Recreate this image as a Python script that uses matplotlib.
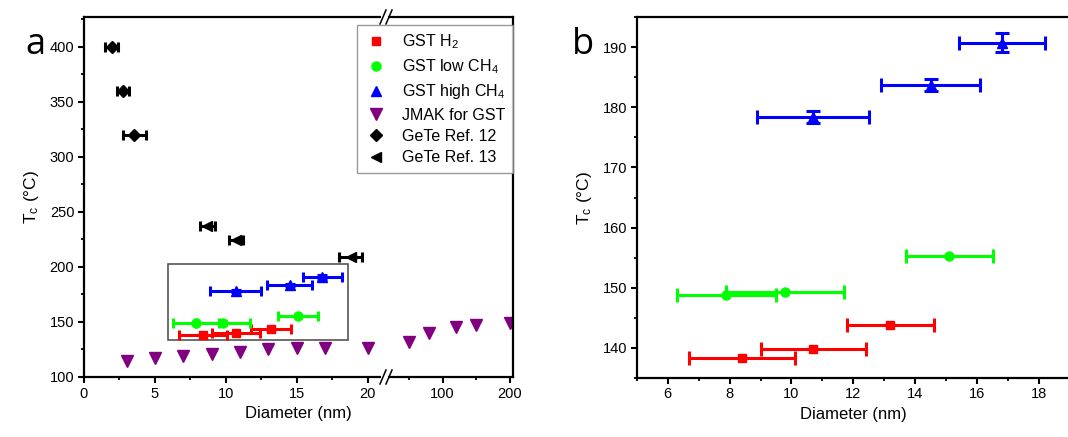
import numpy as np
import matplotlib
matplotlib.use("Agg")
import matplotlib.pyplot as plt
from matplotlib.lines import Line2D
from matplotlib.patches import Rectangle
from matplotlib.ticker import FixedLocator, MultipleLocator

plt.rcParams['font.family'] = ['Liberation Sans', 'DejaVu Sans']
plt.rcParams['mathtext.fontset'] = 'custom'
plt.rcParams['mathtext.rm'] = 'Liberation Sans'
plt.rcParams['mathtext.it'] = 'Liberation Sans'

# ── данные ────────────────────────────────────────────────────────────────
h2_d = [8.4, 10.7, 13.2]
h2_t = [138.3, 139.8, 143.8]
h2_dx = [1.7, 1.7, 1.4]

low_d = [7.9, 9.8, 15.1]
low_t = [148.8, 149.2, 155.2]
low_dx = [1.6, 1.9, 1.4]

high_d = [10.7, 14.5, 16.8]
high_t = [178.4, 183.7, 190.8]
high_dx = [1.8, 1.6, 1.4]
high_dt = [1.05, 1.05, 1.65]

jmak_d = [3, 5, 7, 9, 11, 13, 15, 17, 20, 50, 80, 120, 150, 200]
jmak_t = [114.5, 117, 119, 121, 123, 125, 126, 126, 126, 132, 140, 145, 147, 149]

ref12_d = [1.95, 2.75, 3.55]
ref12_t = [400, 360, 320]
ref12_dx = [0.45, 0.45, 0.8]

ref13_d = [8.7, 10.7, 18.8]
ref13_t = [237, 224, 209]
ref13_dx = [0.5, 0.5, 0.8]

labels = ["GST H$_2$", "GST low CH$_4$", "GST high CH$_4$",
          "JMAK for GST", "GeTe Ref. 12", "GeTe Ref. 13"]

# ── ось с разрывом (0–21 линейно, потом 100/200 сжато) ─────────────────────
SEG_END = 21.0
U100 = 25.28
K = 0.0472


def fwd(x):
    x = np.asarray(x, float)
    return np.where(x <= SEG_END, x, U100 + (x - 100.0) * K)


def inv(u):
    u = np.asarray(u, float)
    return np.where(u <= SEG_END, u, np.maximum(100.0 + (u - U100) / K, SEG_END))


W, H = 1068, 437
fig = plt.figure(figsize=(W / 100, H / 100), dpi=100)

ax1 = fig.add_axes([84 / W, (H - 377) / H, (513 - 84) / W, 360 / H])
ax2 = fig.add_axes([636.7 / W, (H - 377.7) / H, (1070 - 636.7) / W, 360.4 / H])

eb = dict(linestyle='none', elinewidth=2.2, capthick=2.2)
st_h2 = dict(marker='s', color='#ff0000', markersize=6)
st_low = dict(marker='o', color='#00ff00', markersize=6.5)
st_high = dict(marker='^', color='#0000ff', markersize=6.5)
st_jmak = dict(marker='v', color='#800080', markersize=8)
st_r12 = dict(marker='D', color='black', markersize=6)
st_r13 = dict(marker='<', color='black', markersize=7)

for ax, cap in ((ax1, 3.5), (ax2, 5)):
    ax.errorbar(h2_d, h2_t, xerr=h2_dx, capsize=cap, **st_h2, **eb)
    ax.errorbar(low_d, low_t, xerr=low_dx, capsize=cap, **st_low, **eb)
    ax.errorbar(high_d, high_t, xerr=high_dx, yerr=high_dt, capsize=cap, **st_high, **eb)

ax1.set_xscale('function', functions=(fwd, inv))
ax1.plot(jmak_d, jmak_t, linestyle='none', **st_jmak)
ax1.errorbar(ref12_d, ref12_t, xerr=ref12_dx, capsize=3.5, **st_r12, **eb)
ax1.errorbar(ref13_d, ref13_t, xerr=ref13_dx, capsize=3.5, **st_r13, **eb)

ax1.add_patch(Rectangle((5.9, 133.6), 12.7, 69, fill=False, edgecolor='#555555', lw=1.2, zorder=1))

ax1.set_xlim(0, 205)
ax1.set_ylim(100, 427)
ax1.xaxis.set_major_locator(FixedLocator([0, 5, 10, 15, 20, 100, 200]))
ax1.xaxis.set_minor_locator(FixedLocator([2.5, 7.5, 12.5, 17.5, 50, 150]))
ax1.xaxis.set_major_formatter(plt.FixedFormatter(["0", "5", "10", "15", "20", "100", "200"]))
ax1.yaxis.set_major_locator(MultipleLocator(50))
ax1.yaxis.set_minor_locator(MultipleLocator(25))

ax2.set_xlim(5, 19)
ax2.set_ylim(135, 195)
ax2.xaxis.set_major_locator(MultipleLocator(2))
ax2.xaxis.set_minor_locator(MultipleLocator(1))
ax2.yaxis.set_major_locator(MultipleLocator(10))
ax2.yaxis.set_minor_locator(MultipleLocator(5))

for ax in (ax1, ax2):
    for s in ax.spines.values():
        s.set_linewidth(1.6)
    ax.tick_params(which='major', direction='out', length=4, width=1.5, labelsize=10.5, pad=3)
    ax.tick_params(which='minor', direction='out', length=2.5, width=1.3)
    ax.set_xlabel("Diameter (nm)", fontsize=12, labelpad=4)
    ax.set_ylabel("T$_\\mathrm{c}$ (°C)", fontsize=12.5, labelpad=6)

# значки разрыва на нижней и верхней оси
xb = (383 - 84) / (513 - 84)
dxp, dyp = 3 / 429, 7 / 360
for yb in (0, 1):
    ax1.add_patch(Rectangle((xb - 0.004, yb - 0.01), 0.016, 0.02, transform=ax1.transAxes,
                            facecolor='white', edgecolor='none', clip_on=False, zorder=5))
    for off in (0, 0.014):
        ax1.plot([xb + off - dxp, xb + off + dxp], [yb - dyp, yb + dyp], color='black',
                 lw=1.1, transform=ax1.transAxes, clip_on=False, zorder=6)

handles = [Line2D([], [], linestyle='none', **st) for st in
           (st_h2, st_low, st_high, st_jmak, st_r12, st_r13)]
leg = ax1.legend(handles, labels, loc='upper right', bbox_to_anchor=(1.0, 0.978),
                 borderaxespad=0, fontsize=11.5, frameon=True, fancybox=False,
                 edgecolor='#808080', labelspacing=0.4, handletextpad=0.9,
                 borderpad=0.45, handlelength=1.5)
leg.get_frame().set_linewidth(1.0)
leg.set_zorder(10)

fig.text(35 / W, 1 - 45 / H, "a", fontsize=26, ha='center', va='center', family='Open Sans')
fig.text(583 / W, 1 - 45 / H, "b", fontsize=26, ha='center', va='center', family='Open Sans')

fig.savefig("out.png", dpi=100)
